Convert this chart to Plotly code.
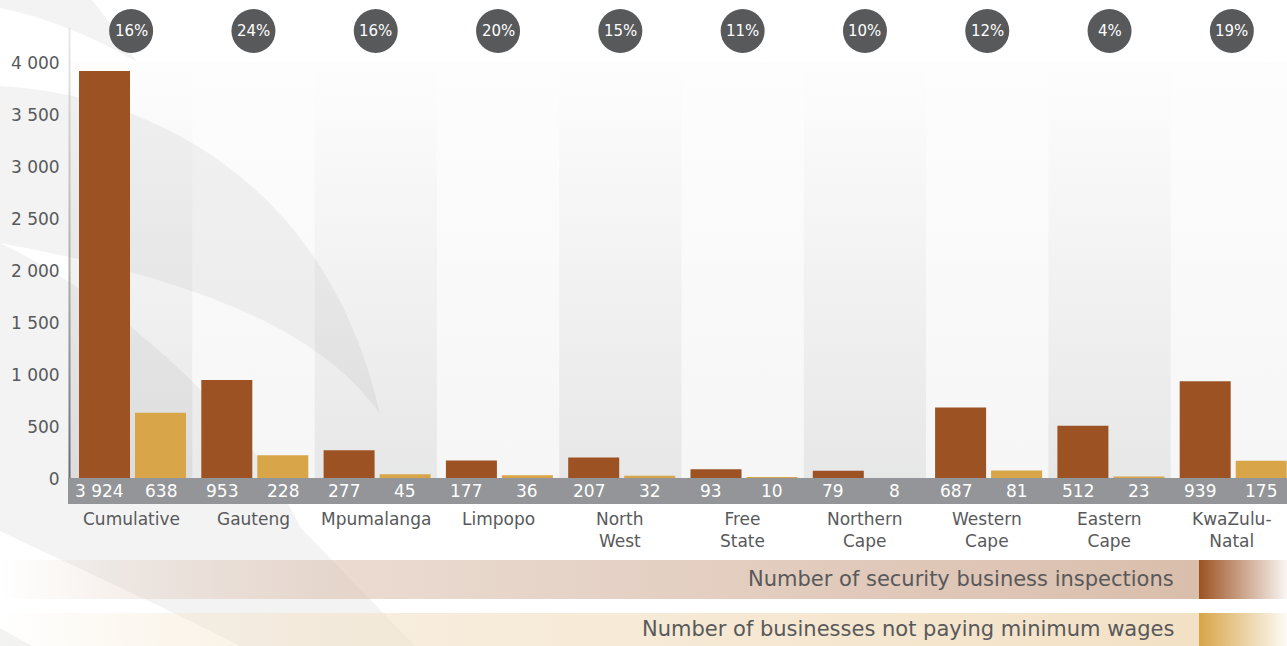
import plotly.graph_objects as go

# ---------------------------------------------------------------- data
categories = ["Cumulative", "Gauteng", "Mpumalanga", "Limpopo", "North<br>West",
              "Free<br>State", "Northern<br>Cape", "Western<br>Cape", "Eastern<br>Cape",
              "KwaZulu-<br>Natal"]
inspections = [3924, 953, 277, 177, 207, 93, 79, 687, 512, 939]
not_paying = [638, 228, 45, 36, 32, 10, 8, 81, 23, 175]
series_names = ["Number of security business inspections",
                "Number of businesses not paying minimum wages"]
y_ticks = [0, 500, 1000, 1500, 2000, 2500, 3000, 3500, 4000]

# ---------------------------------------------------------------- style
W, H = 1287, 646
FONT = "DejaVu Sans"
BROWN = "#9c5222"
GOLD = "#d8a548"
TEXT = "#58595b"
BADGE = "#58595b"
STRIP = "#939598"

PLOT_LEFT = 70        # left edge of the bar area (px)
GROUP_W = 122.3       # width of one category column (px)
ZERO_Y = 479          # pixel row of value 0
TOP_Y = 63            # pixel row of value 4000
COL_TOP = 62
BAR_W = 51 / GROUP_W
BROWN_OFF = -0.5 + 9 / GROUP_W
GOLD_OFF = -0.5 + 65 / GROUP_W

x_idx = list(range(len(categories)))


def fmt(v):
    return f"{v:,}".replace(",", " ")


def py(p):
    """pixel row -> paper y"""
    return (H - p) / H


def grad_box(x0, x1, y0, y1, scale, orient, start, stop):
    return go.Scatter(
        x=[x0, x1, x1, x0, x0], y=[y0, y0, y1, y1, y0],
        mode="lines", line=dict(width=0), fill="toself",
        fillgradient=dict(type=orient, colorscale=scale, start=start, stop=stop),
        hoverinfo="skip", showlegend=False, xaxis="x", yaxis="y",
    )


fig = go.Figure()

# ---------------------------------------------------------------- backdrop (pixel space)
for i in x_idx:
    x0 = PLOT_LEFT + i * GROUP_W
    x1 = min(x0 + GROUP_W, W)
    a = 0.13 if i % 2 == 0 else 0.05
    fig.add_trace(grad_box(x0, x1, COL_TOP, ZERO_Y - 1,
                           [[0, "rgba(70,72,76,0.01)"], [1, f"rgba(70,72,76,{a})"]],
                           "vertical", COL_TOP, ZERO_Y - 1))

# value axis line, fading towards the top
fig.add_trace(grad_box(68.5, 70.5, 28, ZERO_Y - 1,
                       [[0, "rgba(190,190,192,0.35)"], [1, "rgba(105,105,108,1)"]],
                       "vertical", 28, ZERO_Y - 1))

# legend bands
band_stops = [0, 0.13, 0.28, 1]
band_alpha = [0, 0.3, 0.55, 1]
for (y0, y1, rgb, swatch) in [(560, 599, (218, 190, 172), (157, 82, 34)),
                              (613, 646, (243, 225, 197), (216, 165, 72))]:
    scale = [[s, f"rgba({rgb[0]},{rgb[1]},{rgb[2]},{a})"] for s, a in zip(band_stops, band_alpha)]
    fig.add_trace(grad_box(0, 1199, y0, y1, scale, "horizontal", 0, 1199))
    sw = [[0, f"rgb({swatch[0]},{swatch[1]},{swatch[2]})"],
          [1, f"rgba({swatch[0]},{swatch[1]},{swatch[2]},0.05)"]]
    fig.add_trace(grad_box(1199, W, y0, y1, sw, "horizontal", 1199, W))

# ---------------------------------------------------------------- bars
fig.add_trace(go.Bar(x=x_idx, y=inspections, name=series_names[0], offset=BROWN_OFF,
                     width=BAR_W, marker=dict(color=BROWN, line=dict(width=0)),
                     xaxis="x2", yaxis="y2", hoverinfo="skip", showlegend=False))
fig.add_trace(go.Bar(x=x_idx, y=not_paying, name=series_names[1], offset=GOLD_OFF,
                     width=BAR_W, marker=dict(color=GOLD, line=dict(width=0)),
                     xaxis="x2", yaxis="y2", hoverinfo="skip", showlegend=False))

# ---------------------------------------------------------------- shapes
swoosh = "rgba(120,120,124,0.09)"
shapes = [
    dict(type="path", xref="x", yref="y", layer="below", fillcolor=swoosh, line=dict(width=0),
         path="M0,0 L92,0 C108,20 124,42 137,62 C95,38 50,18 0,8 Z"),
    dict(type="path", xref="x", yref="y", layer="below", fillcolor=swoosh, line=dict(width=0),
         path="M0,86 C160,95 330,190 380,414 C320,330 200,280 0,243 Z"),
    dict(type="path", xref="x", yref="y", layer="below", fillcolor=swoosh, line=dict(width=0),
         path="M0,243 C120,300 250,420 300,527 L415,646 L240,646 C150,600 60,560 0,531 Z"),
    dict(type="path", xref="x", yref="y", layer="below", fillcolor=swoosh, line=dict(width=0),
         path="M0,628 L32,646 L0,646 Z"),
    # strip carrying the value labels
    dict(type="rect", xref="x", yref="y", layer="above", x0=68, x1=W, y0=478, y1=504,
         fillcolor=STRIP, line=dict(width=0)),
]
r = 22 / GROUP_W
for i in x_idx:
    shapes.append(dict(type="circle", xref="x2", yref="paper", x0=i - r, x1=i + r,
                       y0=py(53), y1=py(9), fillcolor=BADGE, line=dict(width=0)))

# ---------------------------------------------------------------- annotations
ann = []
white17 = dict(family=FONT, size=17, color="white")
for i, (a, b) in enumerate(zip(inspections, not_paying)):
    ann.append(dict(x=i + BROWN_OFF + BAR_W / 2, xshift=-5, y=py(491), xref="x2", yref="paper",
                    xanchor="center", yanchor="middle", text=fmt(a), showarrow=False,
                    font=white17))
    ann.append(dict(x=i + GOLD_OFF + BAR_W / 2, y=py(491), xref="x2", yref="paper",
                    xanchor="center", yanchor="middle", text=fmt(b), showarrow=False,
                    font=white17))
    ann.append(dict(x=i, y=py(31), xref="x2", yref="paper", xanchor="center", yanchor="middle",
                    text=f"{round(100 * b / a)}%", showarrow=False,
                    font=dict(family=FONT, size=15, color="white")))
    ann.append(dict(x=i, y=py(507), xref="x2", yref="paper", xanchor="center", yanchor="top",
                    text=categories[i], showarrow=False,
                    font=dict(family=FONT, size=17, color=TEXT)))
for name, yc in zip(series_names, [579, 629]):
    ann.append(dict(x=1176 / W, y=py(yc), xref="paper", yref="paper", xanchor="right",
                    yanchor="middle", text=name, showarrow=False,
                    font=dict(family=FONT, size=21, color=TEXT)))

# ---------------------------------------------------------------- layout
hidden = dict(visible=False, showgrid=False, zeroline=False, fixedrange=True, automargin=False)
fig.update_layout(
    template="none",
    width=W, height=H,
    margin=dict(l=0, r=0, t=0, b=0, pad=0, autoexpand=False),
    paper_bgcolor="white", plot_bgcolor="rgba(0,0,0,0)",
    separators=". ",
    hovermode=False,
    showlegend=False,
    barmode="overlay",
    xaxis=dict(domain=[0, 1], range=[0, W], anchor="y", **hidden),
    yaxis=dict(domain=[0, 1], range=[H, 0], anchor="x", **hidden),
    xaxis2=dict(domain=[PLOT_LEFT / W, 1], range=[-0.5, -0.5 + (W - PLOT_LEFT) / GROUP_W],
                anchor="y2", **hidden),
    yaxis2=dict(domain=[py(ZERO_Y), py(TOP_Y)], range=[0, 4000], anchor="x2",
                tickvals=y_ticks, tickformat=",d", showgrid=False, zeroline=False,
                showline=False, ticks="outside", ticklen=6, tickcolor="rgba(0,0,0,0)",
                tickfont=dict(family=FONT, size=17, color=TEXT), fixedrange=True,
                automargin=False),
    shapes=shapes,
    annotations=ann,
    font=dict(family=FONT),
)

fig.write_html("out.html")
